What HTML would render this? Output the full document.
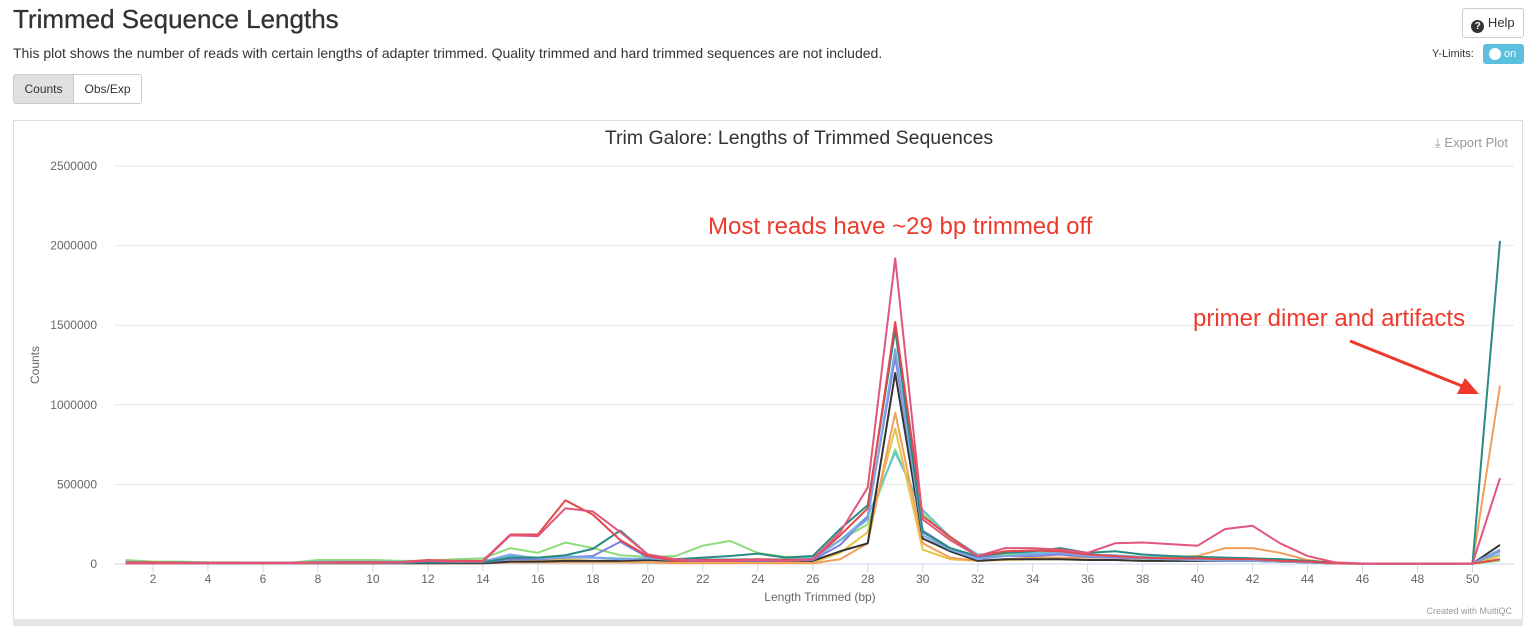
<!DOCTYPE html>
<html><head><meta charset="utf-8"><style>
body{margin:0;width:1534px;height:626px;overflow:hidden;background:#fff;font-family:"Liberation Sans",sans-serif;color:#333;position:relative}
.abs{position:absolute}
h1{position:absolute;left:13px;top:4px;margin:0;font-size:26px;font-weight:normal;color:#333;-webkit-text-stroke:0.3px #333}
.btn{position:absolute;border:1px solid #ccc;border-radius:3px;font-size:12px;background:#fff;box-sizing:border-box;text-align:center}
</style></head><body>
<h1>Trimmed Sequence Lengths</h1>
<div class="abs" style="left:13px;top:45px;font-size:14px">This plot shows the number of reads with certain lengths of adapter trimmed. Quality trimmed and hard trimmed sequences are not included.</div>
<div class="btn" style="left:1462px;top:8px;width:62px;height:30px;line-height:28px;font-size:13px"><span style="display:inline-block;width:13px;height:13px;border-radius:7px;background:#333;color:#fff;font-size:10px;line-height:13px;font-weight:bold;vertical-align:-2px">?</span> Help</div>
<div class="abs" style="left:1432px;top:48px;font-size:11px">Y-Limits:</div>
<div class="abs" style="left:1483px;top:44px;width:41px;height:20px;background:#5bc0de;border-radius:3px;color:#fff;font-size:11px;line-height:20px"><span style="display:inline-block;width:12px;height:12px;border-radius:6px;background:#fff;margin:4px 3px 0 6px;vertical-align:top"></span>on</div>
<div class="btn" style="left:13px;top:74px;width:61px;height:30px;line-height:28px;background:#e0e0e0;border-radius:3px 0 0 3px">Counts</div>
<div class="btn" style="left:73px;top:74px;width:69px;height:30px;line-height:28px;border-radius:0 3px 3px 0">Obs/Exp</div>
<div class="abs" style="left:13px;top:120px;width:1510px;height:500px;border:1px solid #ddd;box-sizing:border-box"></div>
<div class="abs" style="left:13px;top:619px;width:1510px;height:7px;background:#e5e5e5"></div>
<svg id="chart" class="abs" style="left:0;top:0" width="1534" height="626"></svg>
<script>
const xCats=[];for(let i=1;i<=51;i++)xCats.push(i);
const yTicks=[0,500000,1000000,1500000,2000000,2500000];
const sPink=[5,5,5,5,5,5,5,8,8,8,10,20,15,15,180,175,350,330,200,60,30,20,20,25,20,30,200,480,1920,280,150,50,100,100,90,70,130,135,125,115,220,240,130,50,10,3,2,2,2,3,540];
const sRed=[10,10,8,8,8,8,8,10,12,12,12,25,20,20,185,185,400,310,150,50,20,25,25,30,25,30,180,350,1520,300,170,50,80,85,80,60,50,40,35,35,30,30,20,15,5,2,2,2,2,2,30];
const sTeal=[10,8,8,5,5,5,5,8,8,8,8,10,10,10,40,40,55,95,210,60,30,40,50,65,40,50,220,370,1470,200,100,50,70,80,100,70,80,60,50,45,40,35,30,20,8,3,2,2,2,3,2030];
const sOrange=[5,5,5,5,5,5,5,5,5,5,5,5,5,5,10,10,10,10,10,10,5,5,5,5,5,5,30,130,950,130,40,20,30,40,40,40,40,35,40,50,100,100,70,25,5,2,2,2,2,2,1120];
const sBlue=[8,8,8,8,8,8,8,8,8,8,8,10,10,15,60,35,40,40,30,35,25,25,25,25,25,30,150,280,1350,180,90,30,50,60,70,50,50,35,30,25,20,20,15,10,3,2,2,2,2,2,90];
const sBlack=[5,5,5,5,5,5,5,5,5,5,5,5,5,5,15,15,20,20,20,25,20,20,20,20,20,20,80,130,1200,160,80,20,30,30,30,25,25,20,20,20,20,20,15,10,3,2,2,2,2,2,120];
const sYellow=[5,5,5,5,5,5,5,5,5,5,5,5,5,5,15,20,30,20,15,10,10,10,10,10,10,10,70,200,850,90,30,20,25,30,30,25,25,20,20,20,20,20,15,10,3,2,2,2,2,2,50];
const sGreen=[25,15,15,10,10,8,8,25,25,25,20,20,30,35,100,70,135,100,55,45,50,115,145,70,45,45,150,250,720,320,160,50,60,60,70,55,50,45,40,40,35,35,30,20,5,2,2,2,2,2,20];
const sCyan=[15,10,10,8,8,8,8,15,15,15,15,15,20,20,50,40,50,40,35,30,30,30,30,30,30,40,150,300,700,340,170,60,70,70,80,60,55,45,40,40,35,35,25,15,5,2,2,2,2,2,60];
const sPurple=[8,8,8,8,8,8,8,8,8,8,8,10,10,10,30,30,40,50,140,40,20,20,20,20,20,25,120,300,1300,210,100,40,50,50,60,45,40,35,30,25,20,20,15,10,3,2,2,2,2,2,80];
const series=[["green",sGreen,"#8ddc7c"],["cyan",sCyan,"#6cc3d8"],["yellow",sYellow,"#e8c34a"],["orange",sOrange,"#f0a05a"],["black",sBlack,"#333333"],["purple",sPurple,"#7f7fe0"],["blue",sBlue,"#7ca6e4"],["teal",sTeal,"#2b8a82"],["red",sRed,"#e4484c"],["pink",sPink,"#e2567c"]];
const svg=document.getElementById('chart');const NS="http://www.w3.org/2000/svg";
const L=114,R=1514,Y0=564,Ytop=166;
const xs=v=>125.5+(v-1)*(1500-125.5)/50;
const ys=v=>Y0-(v/2500000)*(Y0-Ytop);
function mk(t,a,txt){const e=document.createElementNS(NS,t);for(const k in a)e.setAttribute(k,a[k]);if(txt!==undefined)e.textContent=txt;svg.appendChild(e);return e;}
yTicks.forEach(t=>{
 const g=mk('line',{x1:L,x2:R,y1:ys(t),y2:ys(t),stroke:t===0?'#ccd6eb':'#e6e6e6','stroke-width':1});
 
 
 const l=mk('text',{x:97,y:ys(t)+4,'text-anchor':'end','font-size':12,fill:'#666','font-family':'Liberation Sans, sans-serif'},String(t));
 
 
});
xCats.forEach(c=>{
 if(c%2===0){
  const tk=mk('line',{x1:xs(c),x2:xs(c),y1:Y0,y2:Y0+8,stroke:'#ccd6eb'});
  
  
  const l=mk('text',{x:xs(c),y:Y0+19,'text-anchor':'middle','font-size':12,fill:'#666','font-family':'Liberation Sans, sans-serif'},String(c));
  
  
 }
});
series.forEach(s=>{
 const pts=s[1].map((v,i)=>xs(xCats[i])+','+ys(v*1000)).join(' ');
 const p=mk('polyline',{points:pts,fill:'none',stroke:s[2],'stroke-width':2,'stroke-linejoin':'round'});
 
 
});
const ti=mk('text',{x:799,y:144,'text-anchor':'middle','font-size':19.5,fill:'#333','font-family':'Liberation Sans, sans-serif'},'Trim Galore: Lengths of Trimmed Sequences');


const yt=mk('text',{x:39,y:365,'text-anchor':'middle','font-size':12,fill:'#666',transform:'rotate(-90 39 365)','font-family':'Liberation Sans, sans-serif'},'Counts');


const xt=mk('text',{x:820,y:601,'text-anchor':'middle','font-size':12,fill:'#666','font-family':'Liberation Sans, sans-serif'},'Length Trimmed (bp)');


const ex=mk('text',{x:1508,y:147,'text-anchor':'end','font-size':13,fill:'#999','font-family':'Liberation Sans, sans-serif'},'⤓ Export Plot');


const cr=mk('text',{x:1512,y:614,'text-anchor':'end','font-size':9,fill:'#999','font-family':'Liberation Sans, sans-serif'},'Created with MultiQC');


const a1=mk('text',{x:708,y:234,'font-size':24,fill:'#ee3a2c','font-family':'Liberation Sans, sans-serif'},'Most reads have ~29 bp trimmed off');


const a2=mk('text',{x:1193,y:326,'font-size':24,fill:'#ee3a2c','font-family':'Liberation Sans, sans-serif'},'primer dimer and artifacts');


const ar=mk('line',{x1:1350,y1:341,x2:1462,y2:386,stroke:'#ee3a2c','stroke-width':3});


const ah=mk('polygon',{points:'1479,394 1457,394 1465,378',fill:'#ee3a2c'});


</script>
</body></html>
